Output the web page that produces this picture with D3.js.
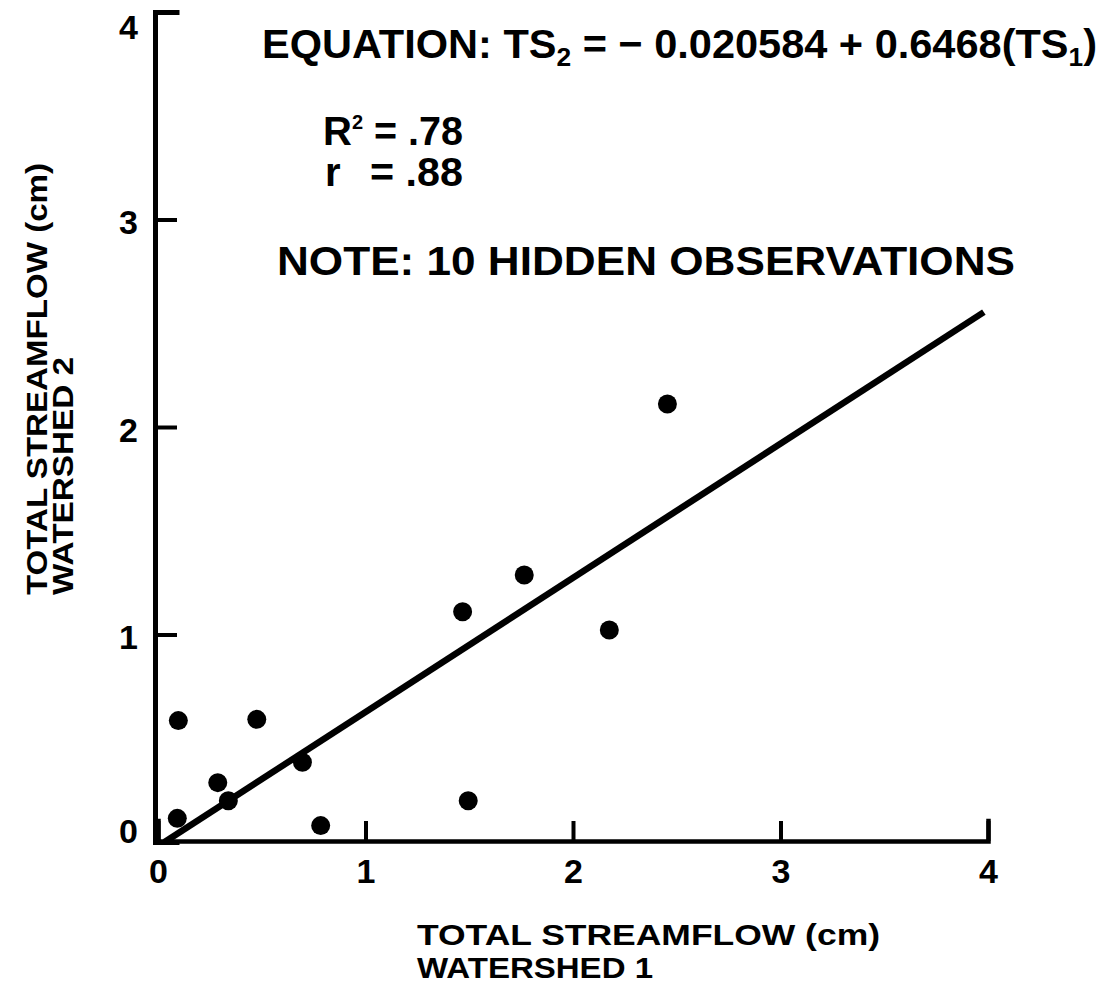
<!DOCTYPE html>
<html>
<head>
<meta charset="utf-8">
<script src="https://cdn.jsdelivr.net/npm/d3@7"></script>
<style>
  html, body { margin: 0; padding: 0; background: #fff; }
  svg { display: block; }
  text { font-family: "Liberation Sans", Arial, Helvetica, sans-serif; font-weight: bold; fill: #000; }
</style>
</head>
<body>
<svg id="chart" width="1106" height="1002"></svg>
<script>
// ---- data ----
const ts1 = [0.098, 0.476, 0.696, 0.288, 0.339, 0.093, 0.784, 1.495, 1.468, 1.765, 2.175, 2.455];
const ts2 = [0.585, 0.591, 0.384, 0.286, 0.199, 0.114, 0.079, 0.199, 1.110, 1.287, 1.022, 2.111];
const xTicks = [0, 1, 2, 3, 4];
const yTicks = [0, 1, 2, 3, 4];
const intercept = -0.020584;
const slope = 0.6468;
const fitRange = [0.0318, 3.98];
const xTitle = ["TOTAL STREAMFLOW (cm)", "WATERSHED 1"];
const yTitle = ["TOTAL STREAMFLOW (cm)", "WATERSHED 2"];

// ---- chart ----
const svg = d3.select("#chart");
const x = d3.scaleLinear().domain([0, 4]).range([158, 988]);
const y = d3.scaleLinear().domain([0, 4]).range([842, 12]);

// y axis (ticks pointing right, labels on the left)
const yAxisX = x(0) - 3;
const gy = svg.append("g")
  .attr("transform", `translate(${yAxisX},0)`)
  .call(d3.axisLeft(y).tickValues(yTicks).tickFormat(d3.format("d"))
    .tickSizeInner(-22).tickSizeOuter(-22).tickPadding(17));
gy.select(".domain").attr("stroke", "#000").attr("stroke-width", 5).attr("fill", "none").attr("stroke-linecap", "square");
gy.selectAll(".tick line").attr("stroke", "#000").attr("stroke-width", 4);
gy.selectAll(".tick text")
  .attr("font-size", 34)
  .attr("font-family", "Liberation Sans, Arial, sans-serif")
  .attr("font-weight", "bold")
  .attr("fill", "#000")
  .attr("dy", d => d === 0 ? "0em" : (d === 4 ? "0.78em" : "0.42em"));

// x axis (ticks pointing up, labels below)
const xAxisY = y(0) - 1;
const gx = svg.append("g")
  .attr("transform", `translate(0,${xAxisY})`)
  .call(d3.axisBottom(x).tickValues(xTicks).tickFormat(d3.format("d"))
    .tickSizeInner(-20).tickSizeOuter(-20).tickPadding(18));
gx.select(".domain").attr("stroke", "#000").attr("stroke-width", 4.5).attr("fill", "none").attr("stroke-linecap", "square");
gx.selectAll(".tick line").attr("stroke", "#000").attr("stroke-width", 4);
gx.selectAll(".tick text")
  .attr("font-size", 34)
  .attr("font-family", "Liberation Sans, Arial, sans-serif")
  .attr("font-weight", "bold")
  .attr("fill", "#000");

// regression line
const fit = fitRange.map(v => [v, intercept + slope * v]);
svg.append("path")
  .datum(fit)
  .attr("d", d3.line().x(d => x(d[0])).y(d => y(d[1])))
  .attr("stroke", "#000")
  .attr("stroke-width", 6.5)
  .attr("fill", "none");

// points
svg.append("g").selectAll("circle")
  .data(ts1.map((v, i) => [v, ts2[i]]))
  .join("circle")
  .attr("cx", d => x(d[0]))
  .attr("cy", d => y(d[1]))
  .attr("r", 9.5)
  .attr("fill", "#000");

// annotations
const eq = svg.append("text")
  .attr("x", 262).attr("y", 58)
  .attr("font-size", 41)
  .attr("textLength", 835)
  .attr("lengthAdjust", "spacingAndGlyphs");
eq.append("tspan").text("EQUATION: TS");
eq.append("tspan").attr("font-size", 26).attr("dy", 8).text("2");
eq.append("tspan").attr("dy", -8).text(" = \u2212 0.020584 + 0.6468(TS");
eq.append("tspan").attr("font-size", 26).attr("dy", 8).text("1");
eq.append("tspan").attr("dy", -8).text(")");

const r2 = svg.append("text").attr("x", 323).attr("y", 145).attr("font-size", 40);
r2.append("tspan").text("R");
r2.append("tspan").attr("font-size", 20).attr("dy", -16).text("2");
svg.append("text").attr("x", 374).attr("y", 145).attr("font-size", 40)
  .attr("textLength", 89).attr("lengthAdjust", "spacingAndGlyphs").text("= .78");
svg.append("text").attr("x", 325).attr("y", 186).attr("font-size", 40).text("r");
svg.append("text").attr("x", 370).attr("y", 186).attr("font-size", 40)
  .attr("textLength", 93).attr("lengthAdjust", "spacingAndGlyphs").text("= .88");

svg.append("text")
  .attr("x", 277).attr("y", 275)
  .attr("font-size", 41)
  .attr("textLength", 738)
  .attr("lengthAdjust", "spacingAndGlyphs")
  .text("NOTE: 10 HIDDEN OBSERVATIONS");

// axis titles
svg.append("text").attr("x", 417).attr("y", 945).attr("font-size", 30)
  .attr("textLength", 463).attr("lengthAdjust", "spacingAndGlyphs").text(xTitle[0]);
svg.append("text").attr("x", 417).attr("y", 978).attr("font-size", 30)
  .attr("textLength", 236).attr("lengthAdjust", "spacingAndGlyphs").text(xTitle[1]);

svg.append("text").attr("transform", "translate(47,595) rotate(-90)").attr("font-size", 30)
  .attr("textLength", 432).attr("lengthAdjust", "spacingAndGlyphs").text(yTitle[0]);
svg.append("text").attr("transform", "translate(73,595) rotate(-90)").attr("font-size", 30)
  .attr("textLength", 238).attr("lengthAdjust", "spacingAndGlyphs").text(yTitle[1]);
</script>
</body>
</html>
